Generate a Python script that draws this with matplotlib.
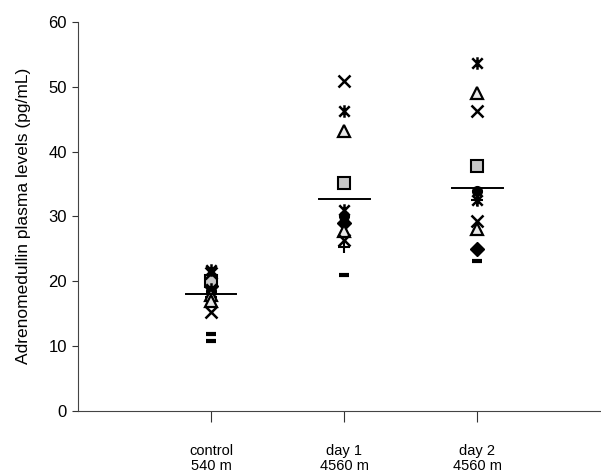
import numpy as np
import matplotlib
matplotlib.use("Agg")
import matplotlib.pyplot as plt
from matplotlib.path import Path

plt.rcParams['font.family'] = ['Liberation Sans', 'DejaVu Sans']

groups = ["control\n540 m", "day 1\n4560 m", "day 2\n4560 m"]

# values per subject: [control, day 1, day 2]
subj_diamond = [19.3, 29.0, 24.9]
subj_square = [20.0, 35.2, 37.8]
subj_triangle = [16.9, 43.2, 49.1]
subj_x = [15.2, 50.9, 46.3]
subj_asterisk = [21.8, 46.3, 53.7]
subj_circle = [18.5, 30.0, 33.9]
subj_plus = [17.6, 25.2, 32.5]
subj_dash = [11.8, 21.0, 23.1]
subj_triangle2 = [17.8, 27.7, 28.0]
subj_x2 = [21.3, 26.4, 29.3]
subj_asterisk2 = [18.8, 31.0, 32.6]
subj_dash2 = [10.8, np.nan, np.nan]

group_means = [18.1, 32.7, 34.4]

star_path = Path([(-1, -1), (1, 1), (-1, 1), (1, -1), (0, -1.2), (0, 1.2)],
                 [Path.MOVETO, Path.LINETO, Path.MOVETO, Path.LINETO, Path.MOVETO, Path.LINETO])

fig = plt.figure(figsize=(6.01, 4.75), dpi=100)
ax = fig.add_axes([0.13, 0.135, 0.87, 0.819])

xpos = np.arange(1, len(groups) + 1)

styles = [
    (subj_diamond, dict(marker='D', ms=7, mfc='black', mec='black')),
    (subj_circle, dict(marker='o', ms=7, mfc='black', mec='black')),
    (subj_square, dict(marker='s', ms=8, mfc='#c8c8c8', mec='black', mew=1.5)),
    (subj_asterisk2, dict(marker=star_path, ms=9, mfc='none', mec='black', mew=1.8)),
    (subj_plus, dict(marker='+', ms=9, mec='black', mew=1.5)),
    (subj_triangle2, dict(marker='^', ms=8, mfc='#e8e8e8', mec='black', mew=1.6)),
    (subj_triangle, dict(marker='^', ms=8, mfc='#e8e8e8', mec='black', mew=1.6)),
    (subj_x, dict(marker='x', ms=8, mec='black', mew=1.8)),
    (subj_x2, dict(marker='x', ms=8, mec='black', mew=1.8)),
    (subj_asterisk, dict(marker=star_path, ms=9, mfc='none', mec='black', mew=1.8)),
    (subj_dash, dict(marker='_', ms=7, mec='black', mew=3)),
    (subj_dash2, dict(marker='_', ms=7, mec='black', mew=3)),
]
for vals, st in styles:
    ax.plot(xpos, vals, linestyle='none', **st)

for x, m in zip(xpos, group_means):
    ax.plot([x - 0.19, x + 0.19], [m, m], color='black', lw=1.4)

ax.set_xlim(0, 3.93)
ax.set_ylim(0, 60)
ax.set_yticks(np.arange(0, 61, 10))
ax.set_xticks(xpos)
ax.set_xticklabels(groups, fontsize=10.5, linespacing=1.1)
ax.tick_params(axis='x', direction='out', length=8, width=0.8, pad=16, colors='#333333', labelcolor='black')
ax.tick_params(axis='y', direction='out', length=4.5, width=0.8, labelsize=12, colors='#333333', labelcolor='black')
for s in ['top', 'right']:
    ax.spines[s].set_visible(False)
for s in ['left', 'bottom']:
    ax.spines[s].set_color('#444444')
    ax.spines[s].set_linewidth(0.8)
ax.set_ylabel("Adrenomedullin plasma levels (pg/mL)", fontsize=12.5)
ax.yaxis.set_label_coords(-0.09, 0.5)

fig.savefig("out.png", dpi=100)
